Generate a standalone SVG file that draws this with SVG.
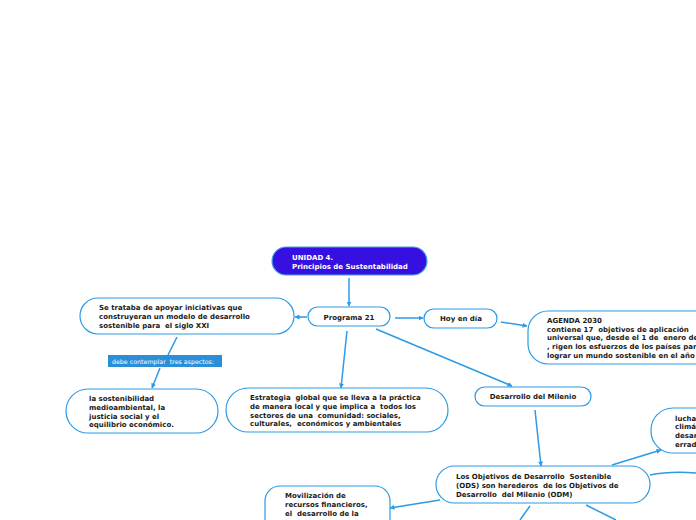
<svg xmlns="http://www.w3.org/2000/svg" width="696" height="520" viewBox="0 0 696 520">
<defs>
<marker id="ah" viewBox="0 0 10 10" refX="9" refY="5" markerWidth="5" markerHeight="5" orient="auto" markerUnits="userSpaceOnUse">
<path d="M0,0 L10,5 L0,10 z" fill="#2b9be4"/>
</marker>
<style>
text{white-space:pre}
.n{fill:#fff;stroke:#2b9be4;stroke-width:1.2}
.t{font-family:"DejaVu Sans",Verdana,sans-serif;font-size:7px;font-weight:bold;fill:#1a1a1a}
.w{fill:#fff}
.c{fill:none;stroke:#2b9be4;stroke-width:1.5}
.a{marker-end:url(#ah)}
.lbl{font-family:"DejaVu Sans",Verdana,sans-serif;font-size:6.3px;fill:#fff}
</style>
</defs>
<rect width="696" height="520" fill="#fff"/>
<g id="connectors">
<path class="c a" d="M349,278 L349,306"/>
<path class="c a" d="M307,317 L295,317"/>
<path class="c" d="M177,337 L168,355"/>
<path class="c a" d="M160,368 L152,388"/>
<path class="c a" d="M395,318 L423,318"/>
<path class="c a" d="M501,322 L527,326"/>
<path class="c a" d="M347,331 L341,388"/>
<path class="c a" d="M376,329 L512,386"/>
<path class="c a" d="M535,410 L541,466"/>
<path class="c a" d="M612,465 L661,450"/>
<path class="c" d="M650,475 Q670,471 696,473"/>
<path class="c" d="M530,506 L520,520"/>
<path class="c" d="M586,505 L616,520"/>
<path class="c a" d="M440,500 L390,508"/>
</g>
<g id="root">
<rect x="272" y="247" width="155" height="28" rx="14" fill="#3510e0" stroke="#4aa3e8" stroke-width="1.2"/>
<text class="t w" x="292" y="260">UNIDAD 4.</text>
<text class="t w" x="292" y="268.5">Principios de Sustentabilidad</text>
</g>
<g id="programa21">
<rect class="n" x="308" y="307" width="82" height="19" rx="9.5"/>
<text class="t" x="349" y="319.5" text-anchor="middle">Programa 21</text>
</g>
<g id="setrataba">
<rect class="n" x="80" y="298" width="214" height="36" rx="18"/>
<text class="t" x="99" y="309.5">Se trataba de apoyar iniciativas que</text>
<text class="t" x="99" y="318.5">construyeran un modelo de desarrollo</text>
<text class="t" x="99" y="327.5">sostenible para  el siglo XXI</text>
</g>
<g id="label-debe">
<rect x="108" y="355" width="114" height="12" fill="#2b8fd8"/>
<text class="lbl" x="112" y="363.5">debe contemplar  tres aspectos:</text>
</g>
<g id="sostenibilidad">
<rect class="n" x="66" y="389" width="152" height="44" rx="22"/>
<text class="t" x="89" y="400.5">la sostenibilidad</text>
<text class="t" x="89" y="409.5">medioambiental, la</text>
<text class="t" x="89" y="418.5">justicia social y el</text>
<text class="t" x="89" y="427">equilibrio económico.</text>
</g>
<g id="hoy">
<rect class="n" x="424" y="309" width="73" height="19" rx="9.5"/>
<text class="t" x="461" y="320.5" text-anchor="middle">Hoy en día</text>
</g>
<g id="agenda">
<rect class="n" x="528" y="311" width="190" height="53" rx="20"/>
<text class="t" x="547" y="322.5">AGENDA 2030</text>
<text class="t" x="547" y="331.5">contiene 17  objetivos de aplicación</text>
<text class="t" x="547" y="340">universal que, desde el 1 de  enero de 2016</text>
<text class="t" x="547" y="349">, rigen los esfuerzos de los países para</text>
<text class="t" x="547" y="357.5">lograr un mundo sostenible en el año 2030</text>
</g>
<g id="estrategia">
<rect class="n" x="226" y="388" width="222" height="44" rx="22"/>
<text class="t" x="250" y="400">Estrategia  global que se lleva a la práctica</text>
<text class="t" x="250" y="408.5">de manera local y que implica a  todos los</text>
<text class="t" x="250" y="417.5">sectores de una  comunidad: sociales,</text>
<text class="t" x="250" y="426">culturales,  económicos y ambientales</text>
</g>
<g id="milenio">
<rect class="n" x="475" y="387" width="116" height="19" rx="9.5"/>
<text class="t" x="533" y="398.5" text-anchor="middle">Desarrollo del Milenio</text>
</g>
<g id="ods">
<rect class="n" x="436" y="466" width="214" height="37" rx="18.5"/>
<text class="t" x="456" y="478.5">Los Objetivos de Desarrollo  Sostenible</text>
<text class="t" x="456" y="487.5">(ODS) son herederos  de los Objetivos de</text>
<text class="t" x="456" y="496.5">Desarrollo  del Milenio (ODM)</text>
</g>
<g id="lucha">
<rect class="n" x="651" y="408" width="90" height="45" rx="22"/>
<text class="t" x="675" y="420.5">lucha contra el</text>
<text class="t" x="675" y="429">climático</text>
<text class="t" x="675" y="438">desarrollo</text>
<text class="t" x="675" y="446.5">erradicar</text>
</g>
<g id="movilizacion">
<rect class="n" x="265" y="486" width="125" height="50" rx="15"/>
<text class="t" x="285" y="497.5">Movilización de</text>
<text class="t" x="285" y="507">recursos financieros,</text>
<text class="t" x="285" y="516">el  desarrollo de la</text>
</g>
</svg>
